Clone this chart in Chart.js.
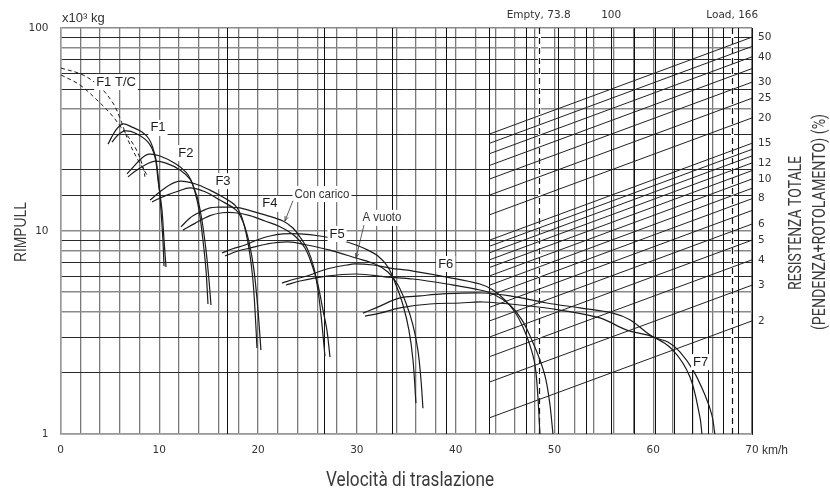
<!DOCTYPE html>
<html>
<head>
<meta charset="utf-8">
<script src="https://cdn.jsdelivr.net/npm/chart.js@4.4.1/dist/chart.umd.min.js"></script>
<style>
  html, body { margin: 0; padding: 0; background: #fff; }
</style>
</head>
<body>
<canvas id="rimpull" width="830" height="493"></canvas>
<script>
// speed in km/h, rimpull in x10^3 kg
const F1_TC_A = [[0.05,63.5],[2.28,58.7],[4.0,51.2],[5.31,42.7],[6.02,36.0],[6.83,28.1],[7.84,22.4],[8.75,18.9]];
const F1_TC_B = [[0.05,58.7],[1.97,52.4],[3.69,44.2],[5.01,38.1],[5.82,34.0],[7.54,25.9],[8.35,20.7],[8.55,18.5]];

const F1_A = [[4.81,26.8],[5.62,31.5],[6.33,33.7],[7.24,32.5],[8.25,30.7],[8.96,28.4],[9.36,25.6],[9.67,22.4],[9.97,16.9],[10.17,12.7],[10.37,9.0],[10.48,6.7]];
const F1_B = [[5.21,27.4],[5.82,29.7],[6.53,31.1],[7.54,30.4],[8.86,27.4],[9.56,23.2],[9.87,17.8],[10.27,12.7],[10.48,9.0],[10.68,6.65]];

const F2_A = [[6.73,19.1],[7.54,21.1],[8.25,22.9],[8.96,23.9],[10.07,23.4],[11.69,21.4],[12.7,19.5],[13.21,17.8],[13.61,15.6],[14.02,12.7],[14.42,9.0],[14.73,6.4],[14.93,4.37]];
const F2_B = [[6.83,18.5],[7.74,20.0],[8.75,21.4],[9.56,22.1],[10.68,21.6],[12.1,20.0],[13.11,18.0],[13.51,16.3],[13.92,14.2],[14.32,11.3],[14.73,8.05],[15.03,5.74],[15.23,4.32]];

const F3_A = [[9.06,14.2],[10.07,15.6],[11.08,16.9],[12.1,17.6],[13.61,17.1],[15.13,15.9],[16.65,14.5],[17.66,13.4],[18.27,12.0],[18.78,9.78],[19.18,7.62],[19.48,5.74],[19.69,4.08],[19.89,2.65]];
const F3_B = [[9.26,13.9],[10.58,14.9],[11.89,15.7],[13.11,16.3],[14.63,15.6],[16.14,14.2],[17.76,12.7],[18.47,11.1],[19.08,8.83],[19.58,6.43],[19.99,4.08],[20.29,2.59]];

const F4_A = [[12.2,10.47],[13.11,11.6],[14.12,12.4],[15.13,13.0],[15.94,13.1],[17.16,13.1],[18.17,13.0],[19.18,12.6],[20.7,12.0],[22.52,11.2],[23.53,10.35],[24.24,9.34],[25.05,8.05],[25.66,6.57],[26.06,5.12],[26.37,3.86],[26.77,2.42]];
const F4_B = [[12.4,10.1],[13.61,10.9],[15.13,11.9],[16.35,12.3],[17.66,12.3],[19.18,11.9],[20.7,11.2],[22.22,10.5],[23.73,9.45],[24.75,8.24],[25.46,6.8],[26.06,5.42],[26.57,4.08],[26.97,3.25],[27.28,2.39]];

const F5_A = [[16.35,7.79],[17.36,8.15],[18.67,8.53],[19.89,9.03],[21.2,9.45],[22.52,9.67],[24.24,9.67],[26.26,9.45],[28.29,9.03],[29.91,8.53],[31.12,8.05],[32.14,7.53],[33.15,6.65],[33.96,5.42],[34.67,4.32],[35.27,3.25],[35.68,2.32],[35.98,1.42]];
const F5_B = [[16.65,7.53],[17.96,7.97],[19.18,8.24],[20.9,8.63],[23.03,8.83],[24.95,8.53],[27.28,8.05],[29.91,7.36],[31.83,6.88],[33.15,6.28],[34.16,5.42],[34.97,4.42],[35.68,3.44],[36.18,2.59],[36.49,1.85],[36.69,1.34]];

const F6_A = [[22.42,5.54],[23.73,5.8],[24.95,6.0],[26.97,6.5],[28.99,6.8],[29.81,6.88],[31.63,6.8],[33.35,6.57],[35.68,6.35],[39.12,5.93],[42.46,5.48],[43.77,5.12],[44.99,4.57],[46.0,3.99],[46.81,3.37],[47.52,2.74],[48.03,2.19],[48.33,1.52],[48.53,1.0]];
const F6_B = [[22.82,5.42],[24.24,5.67],[26.97,6.0],[30.01,6.14],[33.05,5.93],[35.68,5.8],[39.12,5.48],[42.46,5.12],[43.98,4.84],[45.5,4.32],[46.71,3.65],[47.72,2.9],[48.53,2.32],[49.14,1.85],[49.55,1.39],[49.85,1.0]];

const F7_A = [[30.62,3.94],[31.93,4.18],[34.36,4.68],[36.39,4.79],[38.71,4.9],[42.76,4.95],[45.5,4.79],[49.24,4.42],[52.58,4.18],[55.92,3.94],[57.64,3.65],[59.97,3.01],[61.49,2.84],[62.7,2.54],[64.02,2.07],[65.23,1.56],[65.94,1.24],[66.24,1.0]];
const F7_B = [[30.82,3.81],[32.34,3.94],[34.36,4.18],[37.4,4.37],[40.44,4.42],[42.76,4.47],[46.51,4.32],[50.56,4.08],[54.6,3.73],[57.34,3.25],[59.97,3.01],[61.99,2.59],[63.72,1.91],[64.73,1.21],[64.93,1.0]];

// axes
const SPEED_LABELS = [0, 10, 20, 30, 40, 50, 60, 70];
const RIMPULL_LABELS = [1, 10, 100];

// gross weight scale (t), logarithmic, laid on the speed axis
const WEIGHT_EMPTY = 73.8;
const WEIGHT_LOAD = 166;
const WEIGHT_TOP = [73.8, 100, 166];
const WEIGHT_TOP_LABELS = ["Empty, 73.8", "100", "Load, 166"];
const WEIGHT_GRID = [20, 30, 40, 50, 60, 70, 80, 90, 100, 110, 120, 130, 140, 150, 160, 170, 180];
const EMPTY_AT_KMH = 48.4;
const LOAD_AT_KMH = 68.0;
const DIAG_FROM_WEIGHT = 60;

// total resistance lines (%)
const RESISTANCE = [2, 3, 4, 5, 6, 7, 8, 9, 10, 11, 12, 13, 14, 15, 20, 25, 30, 35, 40, 45, 50];
const RESISTANCE_LABELS = [2, 3, 4, 5, 6, 8, 10, 12, 15, 20, 25, 30, 40, 50];

// text placed on the plot, anchored in data units
const NOTES = [
    { text: "F1 T/C", x: 5.62, y: 54.2 },
    { text: "F1", x: 9.87, y: 32.2 },
    { text: "F2", x: 12.7, y: 24.2 },
    { text: "F3", x: 16.45, y: 17.6 },
    { text: "F4", x: 21.2, y: 13.6 },
    { text: "F5", x: 28.0, y: 9.67 },
    { text: "F6", x: 39.0, y: 6.88 },
    { text: "F7", x: 64.8, y: 2.26 }
];
const CALLOUTS = [
    { text: "Con carico", x: 26.47, y: 15.2, from: [23.53, 14.1], to: [22.72, 11.2] },
    { text: "A vuoto", x: 32.54, y: 11.6, from: [30.72, 10.7], to: [29.91, 7.36] }
];

const K = (LOAD_AT_KMH - EMPTY_AT_KMH) / (Math.log10(WEIGHT_LOAD) - Math.log10(WEIGHT_EMPTY));
const speedOfWeight = (w) => EMPTY_AT_KMH + (Math.log10(w) - Math.log10(WEIGHT_EMPTY)) * K;
const weightOfSpeed = (s) => Math.pow(10, Math.log10(WEIGHT_EMPTY) + (s - EMPTY_AT_KMH) / K);
const W_MAX = weightOfSpeed(70);

const INK = "#1c1c1c";

function curve(points, dashed) {
    return {
        data: points.map(p => ({ x: p[0], y: p[1] })),
        showLine: true,
        borderColor: INK,
        borderWidth: dashed ? 1 : 1.2,
        borderDash: dashed ? [4, 3] : [],
        pointRadius: 0,
        tension: 0.35,
        fill: false
    };
}

let datasets = [];
RESISTANCE.forEach(r => {
    datasets.push({
        data: [
            { x: speedOfWeight(DIAG_FROM_WEIGHT), y: DIAG_FROM_WEIGHT * r / 100 },
            { x: 70, y: W_MAX * r / 100 }
        ],
        showLine: true,
        borderColor: "#222",
        borderWidth: 1,
        pointRadius: 0,
        tension: 0
    });
});
[F1_A, F1_B, F2_A, F2_B, F3_A, F3_B, F4_A, F4_B, F5_A, F5_B, F6_A, F6_B, F7_A, F7_B].forEach(c => datasets.push(curve(c, false)));
datasets.push(curve(F1_TC_A, true));
datasets.push(curve(F1_TC_B, true));

const GRAY_Y = [1, 4, 5, 8, 10, 40, 80, 100];

// squeeze text into a given width, to mimic the condensed type of the original
function fittedText(ctx, text, x, y, width, rot) {
    ctx.save();
    ctx.translate(x, y);
    if (rot) ctx.rotate(rot);
    const w = ctx.measureText(text).width;
    ctx.scale(width / w, 1);
    ctx.fillText(text, 0, 0);
    ctx.restore();
}

const overlay = {
    id: "overlay",
    beforeDatasetsDraw(chart) {
        const { ctx, chartArea: a, scales: { x } } = chart;
        ctx.save();
        ctx.strokeStyle = "#111";
        ctx.lineWidth = 1;
        WEIGHT_GRID.forEach(w => {
            const px = Math.round(x.getPixelForValue(speedOfWeight(w))) + 0.5;
            ctx.beginPath();
            ctx.moveTo(px, a.top);
            ctx.lineTo(px, a.bottom);
            ctx.stroke();
        });
        [WEIGHT_EMPTY, WEIGHT_LOAD].forEach(w => {
            const px = Math.round(x.getPixelForValue(speedOfWeight(w))) + 0.5;
            ctx.strokeStyle = "#fff";
            ctx.setLineDash([]);
            ctx.lineWidth = 3;
            ctx.beginPath();
            ctx.moveTo(px, a.top + 1);
            ctx.lineTo(px, a.bottom - 1);
            ctx.stroke();
            ctx.strokeStyle = "#111";
            ctx.setLineDash([6, 4]);
            ctx.lineWidth = 1.2;
            ctx.beginPath();
            ctx.moveTo(px, a.top);
            ctx.lineTo(px, a.bottom);
            ctx.stroke();
        });
        ctx.restore();
    },
    afterDatasetsDraw(chart) {
        const { ctx, scales: { x, y } } = chart;
        ctx.save();
        ctx.textAlign = "center";
        ctx.textBaseline = "middle";
        ctx.font = "13px 'Liberation Sans', Arial, sans-serif";
        NOTES.forEach(n => {
            const px = x.getPixelForValue(n.x);
            const py = y.getPixelForValue(n.y);
            const w = ctx.measureText(n.text).width;
            ctx.fillStyle = "#fff";
            ctx.fillRect(px - w / 2 - 2, py - 8, w + 4, 16);
            ctx.fillStyle = "#1c1c1c";
            ctx.fillText(n.text, px, py);
        });
        CALLOUTS.forEach(c => {
            const px = x.getPixelForValue(c.x);
            const py = y.getPixelForValue(c.y);
            const target = c.text === "Con carico" ? 55 : 39;
            ctx.fillStyle = "#fff";
            ctx.fillRect(px - target / 2 - 2, py - 8, target + 4, 16);
            ctx.fillStyle = "#333";
            fittedText(ctx, c.text, px, py, target, 0);
            const x1 = x.getPixelForValue(c.from[0]), y1 = y.getPixelForValue(c.from[1]);
            const x2 = x.getPixelForValue(c.to[0]), y2 = y.getPixelForValue(c.to[1]);
            ctx.strokeStyle = "#333";
            ctx.lineWidth = 0.8;
            ctx.beginPath();
            ctx.moveTo(x1, y1);
            ctx.lineTo(x2, y2);
            ctx.stroke();
            // small arrow head
            const ang = Math.atan2(y2 - y1, x2 - x1);
            ctx.beginPath();
            ctx.moveTo(x2 - 5 * Math.cos(ang - 0.35), y2 - 5 * Math.sin(ang - 0.35));
            ctx.lineTo(x2, y2);
            ctx.lineTo(x2 - 5 * Math.cos(ang + 0.35), y2 - 5 * Math.sin(ang + 0.35));
            ctx.stroke();
        });
        ctx.restore();
    },
    afterDraw(chart) {
        const { ctx, chartArea: a } = chart;
        ctx.save();
        ctx.fillStyle = "#333";
        ctx.textBaseline = "middle";
        ctx.textAlign = "left";
        ctx.font = "13px 'Liberation Sans', Arial, sans-serif";
        ctx.fillText("x10\u00b3 kg", 62, 18);
        ctx.font = "12px 'Liberation Sans', Arial, sans-serif";
        ctx.fillText("km/h", a.right + 10, 451);

        ctx.textAlign = "center";
        ctx.textBaseline = "middle";
        ctx.fillStyle = "#3a3a3a";
        ctx.font = "21px Roboto, 'Noto Sans', sans-serif";
        fittedText(ctx, "Velocità di traslazione", 410, 481, 168, 0);
        ctx.font = "16px 'Liberation Sans', Arial, sans-serif";
        fittedText(ctx, "RIMPULL", 22, 232, 60, -Math.PI / 2);
        ctx.font = "18px Roboto, 'Noto Sans', sans-serif";
        fittedText(ctx, "RESISTENZA TOTALE", 796, 223, 134, -Math.PI / 2);
        fittedText(ctx, "(PENDENZA+ROTOLAMENTO) (%)", 820, 222, 216, -Math.PI / 2);
        ctx.restore();
    }
};

new Chart(document.getElementById("rimpull"), {
    type: "scatter",
    data: { datasets: datasets },
    options: {
        responsive: false,
        animation: false,
        layout: { padding: 0 },
        plugins: { legend: { display: false }, tooltip: { enabled: false } },
        scales: {
            x: {
                type: "linear",
                position: "bottom",
                min: 0,
                max: 70,
                afterFit: (s) => { s.height = 59; },
                ticks: {
                    stepSize: 2,
                    autoSkip: false,
                    maxRotation: 0,
                    padding: 10,
                    color: "#333",
                    font: { family: "'DejaVu Sans', Verdana, sans-serif", size: 10.5 },
                    callback: (v) => SPEED_LABELS.includes(v) ? v : ""
                },
                grid: { color: "#7a7a7a", lineWidth: 1.3, drawTicks: false },
                border: { color: "#999", width: 1.5 }
            },
            x2: {
                type: "linear",
                position: "top",
                min: 0,
                max: 70,
                afterFit: (s) => { s.height = 28; },
                afterBuildTicks: (s) => { s.ticks = WEIGHT_TOP.map(w => ({ value: speedOfWeight(w) })); },
                ticks: {
                    autoSkip: false,
                    maxRotation: 0,
                    padding: 6,
                    color: "#333",
                    font: { family: "'DejaVu Sans', Verdana, sans-serif", size: 10.5 },
                    callback: (v, i) => WEIGHT_TOP_LABELS[i]
                },
                grid: { display: false, drawTicks: false },
                border: { display: false }
            },
            y: {
                type: "logarithmic",
                position: "left",
                min: 1,
                max: 100,
                afterFit: (s) => { s.width = 60.5; },
                ticks: {
                    autoSkip: false,
                    padding: 12,
                    color: "#333",
                    font: { family: "'DejaVu Sans', Verdana, sans-serif", size: 10.5 },
                    callback: (v) => RIMPULL_LABELS.includes(v) ? v : ""
                },
                grid: {
                    drawTicks: false,
                    color: (c) => GRAY_Y.includes(c.tick.value) ? "#8a8a8a" : "#2a2a2a",
                    lineWidth: (c) => GRAY_Y.includes(c.tick.value) ? 1.5 : 1
                },
                border: { color: "#999", width: 1.5 }
            },
            y2: {
                type: "logarithmic",
                position: "right",
                min: 1,
                max: 100,
                afterFit: (s) => { s.width = 78; },
                afterBuildTicks: (s) => { s.ticks = RESISTANCE_LABELS.map(r => ({ value: W_MAX * r / 100 })); },
                ticks: {
                    autoSkip: false,
                    padding: 6,
                    color: "#333",
                    font: { family: "'DejaVu Sans', Verdana, sans-serif", size: 10.5 },
                    callback: (v, i) => RESISTANCE_LABELS[i]
                },
                grid: { display: false, drawTicks: false },
                border: { color: "#333", width: 1 }
            }
        }
    },
    plugins: [overlay]
});
</script>
</body>
</html>
